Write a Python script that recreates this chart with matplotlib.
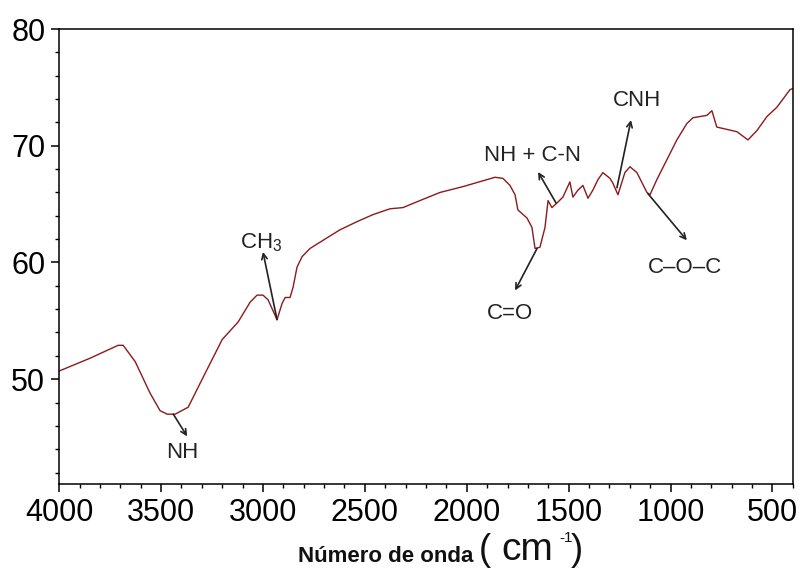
import numpy as np
import matplotlib
matplotlib.use("Agg")
import matplotlib.pyplot as plt
from matplotlib.ticker import MultipleLocator

plt.rcParams['font.family'] = ['Liberation Sans', 'DejaVu Sans']
plt.rcParams['mathtext.fontset'] = 'custom'
plt.rcParams['mathtext.rm'] = 'Liberation Sans'
plt.rcParams['mathtext.it'] = 'Liberation Sans'

# espectro FTIR
wavenumber = [4000, 3848, 3711, 3686, 3627, 3554, 3505, 3470, 3431, 3367,
              3284, 3200, 3122, 3063, 3029, 3000, 2975, 2931, 2906, 2891,
              2867, 2852, 2833, 2808, 2769, 2705, 2622, 2538, 2460, 2376,
              2313, 2244, 2131, 2018, 1861, 1822, 1788, 1763, 1749, 1704,
              1680, 1665, 1641, 1616, 1601, 1582, 1557, 1528, 1494, 1479,
              1454, 1430, 1405, 1381, 1356, 1332, 1297, 1283, 1258, 1224,
              1199, 1165, 1116, 1101, 1067, 1018, 969, 920, 890, 822,
              797, 773, 723, 674, 620, 576, 527, 478, 414, 400]
transmittance = [50.7, 51.8, 52.9, 52.9, 51.5, 48.8, 47.3, 47.0, 47.0, 47.6,
                 50.5, 53.4, 54.9, 56.6, 57.2, 57.2, 56.8, 55.1, 56.5, 57.0,
                 57.0, 57.9, 59.6, 60.5, 61.2, 61.9, 62.8, 63.5, 64.1, 64.6,
                 64.7, 65.2, 66.0, 66.5, 67.3, 67.2, 66.6, 65.8, 64.5, 63.8,
                 63.0, 61.2, 61.3, 63.0, 65.3, 64.7, 65.1, 65.6, 66.9, 65.6,
                 66.2, 66.6, 65.5, 66.2, 67.1, 67.7, 67.2, 66.8, 65.8, 67.7,
                 68.2, 67.7, 66.0, 65.8, 67.1, 68.8, 70.5, 71.9, 72.4, 72.6,
                 73.0, 71.6, 71.4, 71.2, 70.5, 71.3, 72.5, 73.3, 74.8, 74.9]

# etiquetas: texto, punto en la curva, punta de flecha, posicion del texto
labels = ["NH", "CH$_3$", "C=O", "NH + C-N", "CNH", "C\u2013O\u2013C"]
label_xy = [(3440, 47.0), (2931, 55.1), (1655, 61.2), (1562, 65.1), (1263, 66.4), (1111, 65.9)]
arrow_head = [(3372, 45.1), (3000, 60.9), (1763, 57.6), (1650, 67.75), (1194, 72.2), (920, 61.9)]
text_xy = [(3395, 43.7), (3007, 61.7), (1788, 55.6), (1675, 69.2), (1165, 73.9), (929, 59.6)]

fig = plt.figure(figsize=(8, 5.69), dpi=100)
ax = fig.add_axes([0.074, 0.149, 0.917, 0.8])

ax.plot(wavenumber, transmittance, color='#8b1a1a', lw=1.0)

for lab, p0, p1, pt in zip(labels, label_xy, arrow_head, text_xy):
    ax.annotate("", xy=p1, xytext=p0,
                arrowprops=dict(arrowstyle='->', color='#222222', lw=1.2,
                                shrinkA=0, shrinkB=0))
    ax.text(pt[0], pt[1], lab, ha='center', va='center', fontsize=16, color='#222222')

ax.set_xlim(4000, 400)
ax.set_ylim(41, 80)
ax.xaxis.set_major_locator(MultipleLocator(500))
ax.xaxis.set_minor_locator(MultipleLocator(100))
ax.yaxis.set_major_locator(MultipleLocator(10))
ax.yaxis.set_minor_locator(MultipleLocator(2))
ax.tick_params(which='major', direction='out', length=6, width=1.1, labelsize=22, pad=4)
ax.tick_params(which='minor', direction='out', length=3, width=1.0)
for s in ax.spines.values():
    s.set_linewidth(1.1)

# titulo del eje x en piezas: texto en negrita + (cm^-1) grande
fig.text(0.482, 0.0123, "N\u00famero de onda", fontsize=16, fontweight='bold',
         ha='center', va='baseline', color='#111111')
fig.text(0.598, 0.0158, "(", fontsize=26, ha='left', va='baseline', color='#111111')
fig.text(0.627, 0.0158, "cm", fontsize=28, ha='left', va='baseline', color='#111111')
fig.text(0.699, 0.047, "-1", fontsize=11, ha='left', va='baseline', color='#111111')
fig.text(0.714, 0.0158, ")", fontsize=26, ha='left', va='baseline', color='#111111')

fig.savefig("out.png", dpi=100)
